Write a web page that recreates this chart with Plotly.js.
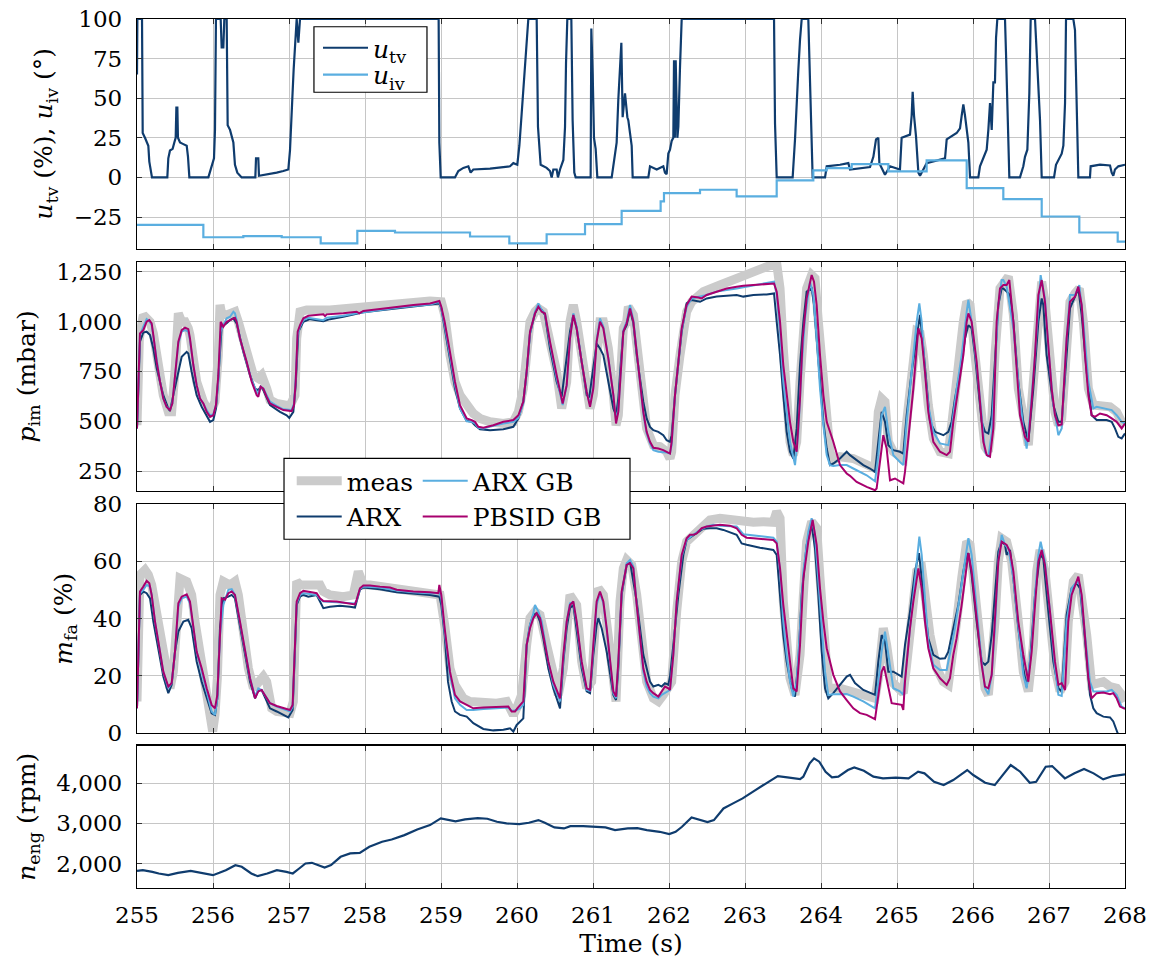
<!DOCTYPE html>
<html>
<head>
<meta charset="utf-8">
<script src="https://cdn.plot.ly/plotly-3.0.1.min.js"></script>
<style>
  html, body { margin: 0; padding: 0; background: #fff; }
  #chart { width: 1153px; height: 966px; }
</style>
</head>
<body>
<div id="chart"></div>
<script>
// ---------- throttle valve position u_tv (%) ----------
const uTvT = [255.000,255.005,255.066,255.075,255.105,255.127,255.149,255.162,255.180,255.197,
  255.399,255.412,255.434,255.469,255.491,255.509,255.518,255.531,255.539,255.566,
  255.610,255.654,255.671,255.689,255.939,255.961,255.982,256.013,256.026,256.039,
  256.101,256.114,256.136,256.149,256.180,256.193,256.224,256.246,256.268,256.289,
  256.320,256.377,256.557,256.566,256.596,256.605,256.750,256.838,256.925,256.991,
  257.013,257.031,257.044,257.061,257.083,257.101,257.123,257.145,258.969,258.978,
  258.996,259.184,259.228,259.294,259.360,259.390,259.425,259.645,259.908,259.952,
  260.004,260.031,260.061,260.092,260.118,260.149,260.259,260.276,260.311,260.390,
  260.434,260.456,260.478,260.522,260.539,260.566,260.610,260.632,260.645,260.662,
  260.715,260.732,260.754,260.772,260.969,260.978,260.996,261.013,261.035,261.057,
  261.246,261.268,261.311,261.333,261.355,261.373,261.390,261.421,261.452,261.465,
  261.487,261.509,261.522,261.728,261.750,261.838,261.925,261.947,261.969,261.991,
  262.013,262.035,262.057,262.066,262.077,262.088,262.110,262.123,262.145,262.167,
  263.382,263.395,263.417,263.627,263.658,263.680,263.702,263.724,263.746,263.833,
  263.846,263.864,263.882,263.890,264.053,264.075,264.250,264.360,264.382,264.645,
  264.689,264.724,264.754,264.768,264.842,264.908,265.039,265.061,265.171,265.193,
  265.206,265.224,265.250,265.281,265.303,265.390,265.632,265.654,265.785,265.829,
  265.851,265.873,265.895,265.939,265.961,266.070,266.092,266.180,266.202,266.224,
  266.246,266.268,266.289,266.303,266.320,266.421,266.434,266.452,266.465,266.478,
  266.618,266.662,266.684,266.715,266.741,266.759,266.816,266.838,266.860,266.882,
  266.904,267.066,267.092,267.167,267.189,267.211,267.224,267.320,267.342,267.364,
  267.386,267.539,267.548,267.671,267.803,267.825,267.846,267.868,267.912,268.000];
const uTvV = [65,100,100,28,25,22,20,10,3,0,
  0,12,17,18,22,25,44,44,25,22,
  21,20,13,0,0,4,8,12,30,100,
  100,82,82,100,100,33,30,25,22,8,
  3,0,0,12,12,1,2,3,4,5,
  17,32,50,68,85,100,85,100,100,22,
  0,0,4,6,7,3,5,5.5,7,9,
  8,20,40,60,80,100,100,32,8,6,
  4,0,5,5,0,5,11,32,72,100,
  100,36,3,0,0,94,65,25,18,0,
  0,7,22,49,68,85,38,53,38,36,
  28,20,0,0,7,5,7,3,2,15,
  17.5,23,25,74,25,74,25,32,70,100,
  100,34,0,0,24,50,68,87,100,100,
  79,39,17.5,0,0,7,8,9,5,6.5,
  13,24,25,9,1.7,7,5,25,27,39,
  54,39,26,3,1,9,12,24,28,31,
  39,46,39,22,0,0,7,17.5,30,47,
  30,60,60,88,100,100,79,47,17.5,0,
  0,7,13,17.5,53,100,100,79,55,36,
  0,0,8,15,20,47,100,100,93,39,
  0,0,7,8,7.5,3,1,5,7,8];

// ---------- intake valve angle u_iv (deg), piecewise constant ----------
const uIvT = [255.000,255.873,256.399,256.904,257.417,257.899,258.395,259.382,259.899,260.390,
  260.895,261.377,261.890,261.934,262.408,262.890,263.417,263.899,264.075,264.404,
  264.886,265.390,265.917,266.399,266.904,267.399,267.904,268.000];
const uIvV = [-30,-37.8,-37.1,-37.8,-41.6,-33.8,-34.8,-37.3,-41.6,-35.9,
  -29.5,-21.1,-15.2,-9.9,-7.8,-12.0,-1.9,4.4,5.9,8.4,
  3.8,10.8,-6.8,-13.7,-24.7,-34.8,-40.5,-40.5];

// ---------- intake manifold pressure p_im (mbar) ----------
const pimMeasT = [255.000,255.031,255.083,255.127,255.171,255.215,255.259,255.346,255.412,255.456,
  255.500,255.544,255.588,255.632,255.675,255.697,255.785,255.873,255.961,256.026,
  256.070,256.092,256.114,256.180,256.224,256.289,256.333,256.443,256.531,256.596,
  256.640,256.706,256.750,256.838,256.925,257.013,257.079,257.101,257.145,257.232,
  257.539,257.759,257.978,258.417,258.855,259.004,259.048,259.118,259.184,259.250,
  259.338,259.425,259.513,259.645,259.820,259.952,260.018,260.083,260.127,260.171,
  260.237,260.281,260.346,260.434,260.522,260.588,260.654,260.697,260.741,260.785,
  260.851,260.917,260.961,261.004,261.048,261.092,261.136,261.202,261.268,261.303,
  261.333,261.364,261.399,261.443,261.465,261.531,261.618,261.706,261.794,261.882,
  261.969,262.013,262.035,262.079,262.145,262.232,262.298,262.452,262.671,262.890,
  263.110,263.285,263.417,263.461,263.504,263.548,263.592,263.636,263.680,263.724,
  263.768,263.811,263.877,263.921,263.965,264.031,264.075,264.118,264.162,264.250,
  264.425,264.557,264.711,264.754,264.798,264.842,264.886,264.952,265.083,265.127,
  265.193,265.259,265.303,265.346,265.412,265.478,265.566,265.675,265.719,265.785,
  265.873,265.917,265.961,266.026,266.092,266.158,266.202,266.246,266.289,266.355,
  266.465,266.531,266.596,266.684,266.728,266.794,266.860,266.904,266.947,267.013,
  267.079,267.123,267.167,267.232,267.276,267.342,267.399,267.452,267.518,267.583,
  267.671,267.803,267.890,267.956,268.000];
const pimMeasV = [480,915,1033,1016,999,940,832,631,547,547,
  748,1041,999,999,966,932,698,598,539,598,
  832,1083,1041,1033,1041,1049,999,848,731,715,
  731,664,606,589,581,577,631,915,1049,1058,
  1058,1066,1071,1086,1103,1099,1033,832,698,631,
  581,539,514,497,489,497,547,664,832,999,
  1049,1066,1049,915,748,564,698,999,1083,999,
  832,631,564,631,865,999,999,865,631,480,
  530,765,966,999,1074,1033,698,464,380,372,
  347,313,347,631,832,1049,1099,1150,1183,1217,
  1258,1275,1292,1166,865,547,397,330,397,698,
  999,1166,1233,1217,999,664,464,347,305,322,
  313,288,263,547,614,598,397,347,313,497,
  748,949,940,832,581,414,347,338,480,731,
  999,1099,1083,832,547,372,347,497,832,1166,
  1225,1033,664,430,380,698,1083,1200,1099,748,
  547,480,514,865,1099,1141,1166,999,664,581,
  581,572,547,497,489];

const pimArxT = [255.000,255.039,255.083,255.127,255.171,255.215,255.259,255.346,255.412,255.434,
  255.478,255.544,255.588,255.654,255.675,255.719,255.785,255.851,255.895,255.961,
  256.004,256.039,256.070,256.101,256.114,256.180,256.224,256.268,256.311,256.399,
  256.487,256.553,256.596,256.627,256.662,256.750,256.882,256.969,257.004,257.057,
  257.088,257.123,257.189,257.276,257.452,257.539,257.715,257.978,258.417,258.855,
  258.978,259.004,259.048,259.118,259.184,259.250,259.338,259.404,259.447,259.513,
  259.645,259.820,259.952,260.018,260.083,260.127,260.171,260.237,260.281,260.325,
  260.368,260.434,260.522,260.588,260.654,260.697,260.741,260.785,260.851,260.917,
  260.952,261.004,261.048,261.092,261.136,261.202,261.268,261.303,261.333,261.364,
  261.399,261.443,261.487,261.531,261.575,261.618,261.662,261.706,261.750,261.794,
  261.860,261.925,261.969,262.013,262.035,262.079,262.123,262.167,262.232,262.298,
  262.408,262.496,262.627,262.803,262.890,262.978,263.110,263.285,263.382,263.417,
  263.461,263.504,263.548,263.592,263.636,263.680,263.724,263.768,263.811,263.877,
  263.908,263.943,263.987,264.031,264.075,264.118,264.162,264.250,264.338,264.382,
  264.469,264.557,264.645,264.711,264.754,264.798,264.842,264.886,264.952,265.039,
  265.083,265.127,265.193,265.259,265.303,265.346,265.390,265.434,265.500,265.610,
  265.675,265.719,265.763,265.829,265.895,265.939,265.982,266.026,266.070,266.114,
  266.158,266.202,266.246,266.289,266.333,266.377,266.399,266.443,266.487,266.531,
  266.596,266.662,266.728,266.794,266.860,266.904,266.925,266.969,267.057,267.123,
  267.167,267.232,267.276,267.342,267.386,267.430,267.496,267.561,267.627,267.759,
  267.825,267.868,267.912,267.956,268.000];
const pimArxV = [464,899,945,949,932,865,765,631,564,551,
  631,748,823,848,840,748,631,572,539,497,
  506,564,715,932,974,991,1007,1016,991,848,
  731,664,656,673,656,581,547,530,517,547,
  681,949,999,1012,1002,1012,1024,1046,1066,1083,
  1091,1066,966,798,664,564,502,497,480,460,
  455,460,472,514,598,748,940,1041,1074,1058,
  1033,865,698,623,832,949,1033,966,798,631,
  623,782,890,865,832,698,564,530,614,782,
  949,982,1058,991,832,715,598,514,472,455,
  447,430,405,397,430,631,782,949,1091,1108,
  1099,1116,1125,1130,1133,1125,1133,1136,1141,999,
  832,631,447,347,313,464,782,999,1150,1166,
  1083,915,698,497,363,280,288,313,347,330,
  305,280,263,246,397,547,497,380,355,347,
  338,530,748,915,1033,865,664,497,447,430,
  447,497,614,748,915,982,966,832,664,497,
  447,439,530,832,1083,1166,1166,1150,1133,999,
  698,497,397,664,999,1116,1083,832,581,497,
  497,832,1066,1125,1166,1033,748,530,506,506,
  497,464,422,414,439];

const pimArxGbT = [255.000,255.039,255.083,255.127,255.162,255.193,255.215,255.259,255.303,255.346,
  255.390,255.434,255.465,255.500,255.544,255.588,255.632,255.675,255.697,255.741,
  255.785,255.829,255.873,255.917,255.961,256.004,256.039,256.070,256.101,256.136,
  256.180,256.224,256.268,256.289,256.311,256.355,256.443,256.509,256.575,256.596,
  256.627,256.662,256.706,256.750,256.838,256.925,257.035,257.066,257.088,257.114,
  257.145,257.189,257.254,257.364,257.452,257.496,257.715,257.890,257.978,258.197,
  258.417,258.636,258.855,258.978,259.004,259.048,259.118,259.184,259.250,259.338,
  259.404,259.447,259.491,259.557,259.689,259.820,259.952,260.018,260.083,260.127,
  260.171,260.237,260.281,260.325,260.368,260.434,260.522,260.601,260.654,260.697,
  260.741,260.785,260.851,260.917,260.961,261.004,261.048,261.092,261.136,261.202,
  261.268,261.303,261.333,261.364,261.399,261.443,261.487,261.531,261.575,261.618,
  261.662,261.706,261.750,261.794,261.860,261.969,262.013,262.035,262.079,262.123,
  262.167,262.232,262.298,262.496,262.627,262.890,263.022,263.110,263.285,263.382,
  263.417,263.461,263.504,263.548,263.592,263.658,263.702,263.746,263.789,263.855,
  263.899,263.943,263.987,264.031,264.075,264.118,264.162,264.250,264.338,264.425,
  264.601,264.711,264.754,264.798,264.842,264.886,264.952,265.039,265.083,265.127,
  265.193,265.259,265.294,265.325,265.368,265.412,265.478,265.566,265.675,265.719,
  265.785,265.851,265.917,265.939,265.982,266.048,266.114,266.158,266.202,266.246,
  266.289,266.333,266.377,266.399,266.443,266.531,266.596,266.662,266.706,266.750,
  266.816,266.860,266.890,266.947,266.991,267.057,267.123,267.167,267.232,267.276,
  267.342,267.399,267.452,267.518,267.583,267.627,267.715,267.825,267.890,267.956,
  268.000];
const pimArxGbV = [464,930,974,1012,1002,982,924,798,698,614,
  572,560,589,723,890,949,957,949,907,782,
  681,614,589,556,530,534,581,698,949,982,
  1016,1024,1049,1041,1007,915,798,706,648,639,
  673,664,631,598,577,560,556,589,715,932,
  974,1007,1019,1012,1007,1019,1029,1041,1046,1058,
  1069,1078,1086,1099,1066,982,832,681,564,500,
  497,489,467,464,477,489,497,517,589,740,
  940,1049,1091,1058,1041,890,715,581,681,915,
  1041,974,798,648,581,673,907,1016,974,815,
  631,506,556,765,957,999,1083,1007,848,681,
  539,439,389,355,347,343,338,380,631,798,
  957,1074,1116,1133,1150,1166,1175,1180,1191,1200,
  1133,949,698,530,397,280,447,782,1016,1200,
  1133,915,664,480,330,280,276,280,280,263,
  229,199,330,530,572,447,330,296,280,497,
  748,999,1091,999,748,581,447,389,380,464,
  664,832,1049,1108,999,782,530,347,322,439,
  748,1083,1208,1208,1175,966,698,464,363,530,
  832,1099,1233,1116,865,581,430,464,915,1133,
  1133,1183,999,698,564,572,564,556,530,497,
  489];

const pimPbsidT = [255.000,255.039,255.083,255.127,255.162,255.193,255.215,255.259,255.303,255.346,
  255.390,255.434,255.465,255.500,255.544,255.588,255.632,255.675,255.697,255.741,
  255.785,255.829,255.873,255.917,255.961,256.004,256.039,256.070,256.101,256.136,
  256.180,256.224,256.289,256.311,256.355,256.443,256.509,256.575,256.596,256.627,
  256.662,256.706,256.750,256.838,256.925,257.035,257.066,257.088,257.114,257.145,
  257.189,257.254,257.364,257.452,257.474,257.496,257.715,257.890,257.925,257.978,
  258.197,258.417,258.636,258.855,258.978,259.004,259.048,259.118,259.184,259.250,
  259.338,259.404,259.447,259.491,259.557,259.689,259.820,259.952,260.018,260.083,
  260.127,260.171,260.237,260.281,260.325,260.368,260.434,260.522,260.601,260.654,
  260.697,260.741,260.785,260.851,260.917,260.961,261.004,261.048,261.092,261.136,
  261.202,261.268,261.303,261.333,261.364,261.399,261.443,261.487,261.531,261.575,
  261.618,261.662,261.706,261.750,261.794,261.860,261.925,261.969,262.013,262.035,
  262.079,262.123,262.167,262.232,262.298,262.386,262.430,262.496,262.627,262.759,
  262.890,262.978,263.110,263.285,263.382,263.417,263.461,263.504,263.548,263.592,
  263.636,263.680,263.724,263.759,263.811,263.877,263.908,263.943,263.987,264.031,
  264.075,264.162,264.250,264.338,264.382,264.469,264.601,264.711,264.732,264.776,
  264.820,264.864,264.908,264.974,265.039,265.083,265.105,265.171,265.215,265.281,
  265.325,265.368,265.412,265.478,265.566,265.654,265.697,265.741,265.807,265.873,
  265.917,265.939,265.982,266.048,266.092,266.136,266.180,266.224,266.268,266.311,
  266.355,266.399,266.443,266.478,266.531,266.575,266.618,266.684,266.728,266.772,
  266.816,266.860,266.904,266.947,266.991,267.035,267.079,267.123,267.167,267.232,
  267.276,267.342,267.386,267.430,267.474,267.518,267.561,267.605,267.671,267.759,
  267.825,267.890,267.956,268.000];
const pimPbsidV = [464,940,957,999,1007,991,932,798,698,614,
  572,556,589,731,899,957,969,962,915,782,
  681,614,589,547,522,530,581,731,999,974,
  999,1007,1019,999,915,798,698,631,623,673,
  664,623,589,572,556,551,581,698,949,982,
  1016,1029,1033,1036,1027,1036,1041,1049,1041,1053,
  1063,1074,1083,1091,1103,1074,999,848,698,581,
  514,506,497,472,467,480,497,506,530,598,
  748,949,1041,1074,1049,1041,899,731,589,681,
  915,1033,966,798,648,572,664,899,999,966,
  815,631,489,547,765,949,991,1066,999,848,
  681,547,447,397,367,363,355,347,338,397,
  631,798,966,1083,1125,1120,1116,1133,1150,1166,
  1175,1180,1183,1188,1191,1150,999,782,631,497,
  397,347,614,915,1116,1233,1200,1083,832,631,
  497,397,280,238,226,196,171,154,163,296,
  430,363,204,213,196,188,246,497,664,966,
  915,748,547,397,347,330,347,497,664,832,
  999,1041,999,798,598,397,330,322,464,999,
  1166,1183,1183,1208,999,748,530,422,397,598,
  832,1133,1208,1099,899,664,530,480,484,915,
  1099,1125,1175,1083,832,631,530,522,539,530,
  514,497,464,489];

// ---------- fuel mass / injection m_fa (%) ----------
const mfaMeasT = [255.000,255.039,255.105,255.149,255.193,255.259,255.325,255.390,255.434,255.478,
  255.522,255.566,255.654,255.719,255.763,255.829,255.895,255.961,255.996,256.026,
  256.057,256.092,256.136,256.224,256.289,256.333,256.399,256.465,256.531,256.596,
  256.662,256.706,256.772,256.838,256.925,257.013,257.057,257.101,257.145,257.232,
  257.320,257.408,257.452,257.539,257.715,257.846,257.912,257.934,257.978,258.066,
  258.241,258.417,258.855,258.987,259.048,259.118,259.184,259.294,259.382,259.557,
  259.732,259.864,259.908,259.952,259.996,260.061,260.127,260.171,260.237,260.303,
  260.390,260.456,260.544,260.610,260.654,260.697,260.785,260.851,260.917,260.982,
  261.026,261.070,261.136,261.202,261.268,261.303,261.355,261.399,261.443,261.509,
  261.575,261.640,261.706,261.794,261.860,261.925,261.991,262.035,262.101,262.167,
  262.232,262.364,262.452,262.539,262.671,262.846,262.978,263.110,263.241,263.373,
  263.417,263.461,263.504,263.548,263.592,263.658,263.724,263.768,263.811,263.877,
  263.943,263.987,264.031,264.096,264.250,264.382,264.513,264.711,264.754,264.820,
  264.864,264.930,265.018,265.083,265.127,265.193,265.259,265.325,265.368,265.434,
  265.522,265.610,265.675,265.719,265.785,265.851,265.917,265.961,266.026,266.092,
  266.158,266.202,266.246,266.289,266.333,266.377,266.443,266.509,266.596,266.662,
  266.728,266.794,266.838,266.882,266.947,267.013,267.079,267.145,267.211,267.254,
  267.320,267.386,267.452,267.496,267.561,267.627,267.715,267.803,267.890,267.956,
  268.000];
const mfaMeasV = [11.1,55.3,57.0,55.3,51.8,42.5,30.8,20.4,15.7,21.5,
  42.5,54.1,53.0,48.3,39.0,27.4,20.4,8.7,0.6,6.4,
  19.2,48.3,53.0,51.8,53.0,48.3,34.3,22.7,15.7,18.0,
  19.8,18.0,8.7,7.6,7.6,7.0,11.1,53.0,51.8,51.8,
  51.2,51.8,49.5,48.3,47.7,48.3,56.5,54.1,51.8,51.8,
  51.2,50.6,49.5,48.3,37.8,22.7,16.9,12.2,11.1,10.5,
  10.5,11.1,8.7,6.4,8.7,13.4,30.8,40.2,42.5,41.3,
  30.8,22.7,13.4,22.7,41.3,48.3,44.8,25.0,15.7,18.0,
  36.7,50.6,48.3,33.2,13.4,11.1,46.0,57.6,60.5,58.8,
  48.3,30.8,18.0,12.2,11.1,13.4,15.7,18.0,42.5,59.9,
  66.9,70.4,72.8,74.5,75.1,74.5,73.9,73.7,73.9,73.7,
  77.4,75.1,46.0,30.8,19.2,13.4,27.4,48.3,66.9,73.9,
  71.6,54.1,36.7,15.7,15.7,14.6,13.4,12.2,19.2,36.7,
  30.8,18.0,15.7,14.0,23.9,42.5,56.5,57.6,48.3,34.3,
  22.7,18.0,16.9,23.9,39.0,54.1,66.9,65.8,48.3,28.5,
  15.7,13.4,23.9,39.0,59.9,68.1,66.9,59.9,39.0,21.5,
  14.6,30.8,56.5,64.0,56.5,39.0,22.7,14.6,18.0,39.0,
  53.0,55.3,44.8,34.3,16.9,17.5,18.0,16.3,15.7,13.4,
  11.1];

const mfaArxT = [255.000,255.039,255.083,255.127,255.171,255.215,255.303,255.346,255.412,255.456,
  255.500,255.544,255.610,255.675,255.719,255.785,255.851,255.917,255.982,256.026,
  256.057,256.092,256.136,256.202,256.246,256.289,256.421,256.487,256.553,256.596,
  256.640,256.706,256.750,256.838,256.925,256.991,257.048,257.079,257.101,257.145,
  257.189,257.254,257.364,257.408,257.452,257.539,257.671,257.803,257.868,257.890,
  257.934,257.978,258.197,258.417,258.636,258.855,258.978,259.004,259.048,259.092,
  259.140,259.184,259.250,259.338,259.425,259.557,259.689,259.820,259.908,259.952,
  259.996,260.039,260.083,260.127,260.171,260.215,260.259,260.303,260.346,260.412,
  260.478,260.566,260.610,260.654,260.697,260.741,260.785,260.851,260.917,260.961,
  261.004,261.048,261.070,261.114,261.180,261.224,261.268,261.303,261.333,261.377,
  261.443,261.487,261.575,261.662,261.750,261.794,261.860,261.904,261.947,261.991,
  262.013,262.057,262.123,262.189,262.232,262.298,262.364,262.452,262.539,262.627,
  262.715,262.846,262.890,262.956,263.022,263.197,263.373,263.417,263.461,263.504,
  263.548,263.614,263.658,263.702,263.746,263.811,263.877,263.921,263.965,264.009,
  264.053,264.096,264.162,264.250,264.338,264.382,264.447,264.557,264.645,264.711,
  264.754,264.798,264.842,264.886,264.952,265.018,265.061,265.105,265.171,265.237,
  265.289,265.325,265.368,265.412,265.478,265.566,265.632,265.675,265.741,265.807,
  265.873,265.917,265.939,265.982,266.048,266.114,266.158,266.202,266.246,266.289,
  266.333,266.377,266.421,266.443,266.487,266.531,266.596,266.662,266.706,266.750,
  266.816,266.882,266.925,266.991,267.057,267.123,267.167,267.232,267.298,267.364,
  267.408,267.452,267.496,267.539,267.583,267.627,267.715,267.803,267.846,267.890,
  267.904,268.000];
const mfaArxV = [8.7,48.3,49.5,48.9,47.1,39.0,26.2,19.8,14.0,16.9,
  28.5,35.5,39.0,39.6,36.7,25.0,18.0,12.2,7.0,6.4,
  12.2,36.7,47.1,47.7,48.3,47.1,28.5,18.0,12.2,15.1,
  15.1,11.1,8.7,7.6,6.4,5.5,8.1,28.5,44.8,47.7,
  48.3,47.7,48.3,46.0,43.7,44.2,44.5,44.2,43.9,46.0,
  50.1,50.9,50.3,49.2,48.7,48.3,47.7,44.8,34.3,18.0,
  11.1,7.6,6.4,5.8,3.5,1.5,1.0,1.2,1.7,0.6,
  2.9,4.1,5.2,30.8,37.8,41.3,41.9,39.0,33.2,22.7,
  15.7,8.7,25.0,36.7,43.7,44.8,36.7,22.7,14.6,14.0,
  27.4,37.8,40.2,36.7,28.5,21.5,13.4,11.6,22.7,48.3,
  58.8,59.9,46.0,27.4,18.0,16.3,16.9,16.3,17.5,16.9,
  19.8,30.8,48.3,62.3,67.5,68.7,69.8,71.4,71.6,71.6,
  71.0,69.8,69.3,66.3,65.8,64.8,64.0,62.3,48.3,34.3,
  25.0,15.7,12.8,25.0,48.3,65.8,72.8,64.6,48.3,28.5,
  15.7,12.2,14.0,16.9,19.8,20.4,17.5,15.1,14.0,13.4,
  25.0,34.3,32.0,21.5,21.5,20.4,19.8,30.8,42.5,56.5,
  62.9,54.1,42.5,33.2,27.4,26.0,26.2,28.5,36.7,44.8,
  56.5,62.3,62.9,55.3,39.0,25.0,23.9,25.0,34.3,48.3,
  63.4,66.9,65.8,62.3,64.0,54.1,36.7,22.7,16.3,25.0,
  48.3,62.3,61.1,42.5,25.0,15.7,14.6,41.3,50.6,52.4,
  50.6,39.0,25.0,13.4,8.7,7.0,5.8,5.5,4.1,0.6,
  0.0,-4.0];

const mfaArxGbT = [255.000,255.039,255.083,255.127,255.171,255.193,255.237,255.303,255.346,255.412,
  255.456,255.500,255.544,255.588,255.654,255.697,255.741,255.785,255.851,255.917,
  255.982,256.026,256.057,256.092,256.136,256.202,256.246,256.289,256.355,256.421,
  256.487,256.553,256.596,256.640,256.706,256.750,256.838,256.925,257.013,257.048,
  257.079,257.101,257.145,257.189,257.298,257.364,257.408,257.452,257.627,257.803,
  257.868,257.890,257.934,257.978,258.197,258.417,258.636,258.855,258.978,259.004,
  259.048,259.118,259.184,259.250,259.338,259.425,259.557,259.732,259.886,259.930,
  259.996,260.039,260.083,260.127,260.171,260.215,260.237,260.281,260.325,260.368,
  260.412,260.478,260.566,260.610,260.654,260.697,260.741,260.785,260.851,260.917,
  260.961,261.004,261.048,261.092,261.136,261.180,261.224,261.268,261.303,261.333,
  261.377,261.443,261.487,261.531,261.575,261.618,261.662,261.706,261.750,261.794,
  261.860,261.904,261.969,262.013,262.057,262.101,262.167,262.232,262.320,262.408,
  262.496,262.583,262.671,262.890,262.978,263.110,263.241,263.373,263.417,263.461,
  263.504,263.548,263.592,263.636,263.680,263.724,263.768,263.833,263.877,263.921,
  263.965,264.009,264.053,264.096,264.162,264.338,264.425,264.557,264.711,264.754,
  264.798,264.842,264.886,264.952,265.039,265.083,265.127,265.193,265.259,265.294,
  265.325,265.368,265.412,265.478,265.566,265.654,265.697,265.763,265.829,265.895,
  265.939,265.982,266.048,266.114,266.158,266.202,266.246,266.289,266.333,266.377,
  266.421,266.465,266.531,266.596,266.662,266.706,266.772,266.816,266.860,266.890,
  266.947,267.013,267.079,267.123,267.167,267.232,267.298,267.364,267.408,267.474,
  267.539,267.583,267.671,267.759,267.825,267.890,267.956,268.000];
const mfaArxGbV = [8.7,48.9,50.1,51.8,51.2,48.3,39.0,27.4,21.5,15.7,
  17.5,28.5,44.2,47.1,47.7,45.4,36.7,28.5,21.5,14.6,
  7.6,6.4,12.2,34.3,44.8,50.1,50.3,48.3,39.0,28.5,
  19.2,12.8,15.7,15.1,12.2,10.5,9.3,8.5,7.6,9.3,
  29.7,45.4,48.3,48.9,48.5,48.3,46.9,46.0,45.7,45.4,
  45.3,46.6,50.4,51.2,50.9,49.8,49.2,48.9,48.9,47.1,
  35.5,20.4,12.2,9.9,8.1,8.1,8.5,8.7,9.0,7.8,
  8.1,8.7,9.9,30.8,37.8,41.9,44.8,42.5,39.0,32.0,
  25.0,16.9,11.1,26.2,39.0,45.4,45.7,38.4,24.4,15.1,
  14.8,29.7,44.8,48.9,45.4,36.1,24.4,14.0,12.2,24.4,
  48.9,59.4,60.5,58.2,44.8,32.0,21.5,16.3,14.0,12.8,
  12.2,13.4,14.6,15.1,27.4,46.0,61.7,67.5,69.3,71.0,
  72.2,72.8,72.5,72.2,69.5,69.0,68.7,68.3,66.9,56.5,
  39.0,27.4,18.0,12.8,18.0,36.7,56.5,70.4,75.1,69.3,
  54.1,36.7,21.5,13.4,13.6,13.7,12.8,11.1,8.7,18.0,
  28.5,35.5,27.4,15.7,14.6,13.4,25.0,42.5,59.9,68.7,
  62.3,46.0,32.0,23.9,22.1,22.1,27.4,36.7,48.3,59.9,
  68.1,62.3,42.5,25.0,15.7,13.6,20.4,36.7,59.9,69.3,
  65.8,64.6,54.1,36.7,20.4,15.7,30.8,48.3,62.3,66.9,
  59.9,42.5,22.7,13.4,13.0,39.0,50.6,53.0,51.8,34.3,
  18.0,14.6,14.6,14.6,15.1,13.4,9.3,8.7];

const mfaPbsidT = [255.000,255.039,255.083,255.127,255.162,255.193,255.237,255.303,255.346,255.412,
  255.456,255.500,255.544,255.588,255.654,255.697,255.741,255.785,255.851,255.917,
  255.982,256.026,256.057,256.092,256.114,256.158,256.202,256.246,256.289,256.355,
  256.421,256.487,256.553,256.596,256.640,256.706,256.750,256.838,256.925,257.013,
  257.048,257.079,257.101,257.145,257.189,257.298,257.364,257.408,257.452,257.627,
  257.803,257.868,257.890,257.934,257.978,258.066,258.197,258.329,258.417,258.636,
  258.855,258.965,258.978,259.004,259.048,259.118,259.184,259.250,259.338,259.425,
  259.557,259.689,259.820,259.886,259.930,259.974,260.004,260.039,260.083,260.127,
  260.171,260.215,260.259,260.303,260.346,260.412,260.478,260.566,260.610,260.654,
  260.697,260.741,260.785,260.851,260.917,260.961,261.004,261.048,261.092,261.136,
  261.180,261.224,261.268,261.303,261.333,261.377,261.443,261.487,261.531,261.575,
  261.618,261.662,261.706,261.750,261.794,261.860,261.904,261.947,261.991,262.013,
  262.057,262.101,262.167,262.232,262.276,262.320,262.364,262.430,262.496,262.583,
  262.671,262.803,262.890,262.956,263.022,263.110,263.241,263.373,263.417,263.461,
  263.504,263.548,263.592,263.636,263.680,263.724,263.768,263.833,263.890,263.943,
  263.987,264.031,264.075,264.162,264.250,264.338,264.425,264.513,264.601,264.711,
  264.754,264.798,264.829,264.864,264.930,264.996,265.061,265.083,265.105,265.171,
  265.215,265.281,265.325,265.368,265.412,265.478,265.566,265.654,265.697,265.741,
  265.785,265.851,265.917,265.939,265.982,266.048,266.114,266.158,266.202,266.246,
  266.289,266.333,266.377,266.443,266.487,266.531,266.596,266.662,266.728,266.772,
  266.816,266.860,266.904,266.947,267.013,267.079,267.123,267.167,267.211,267.254,
  267.298,267.342,267.386,267.430,267.474,267.518,267.561,267.627,267.715,267.803,
  267.846,267.890,267.934,268.000];
const mfaPbsidV = [8.7,49.5,51.2,53.2,52.4,48.3,39.0,27.4,21.5,16.3,
  17.5,28.5,45.4,47.7,48.5,46.0,36.7,28.5,22.7,15.7,
  9.9,8.7,13.4,36.7,47.1,46.6,48.9,49.5,48.3,39.0,
  28.5,19.2,12.2,14.6,15.1,12.2,10.5,9.5,8.7,8.1,
  9.9,30.8,46.0,48.9,49.7,49.2,48.9,47.1,46.2,46.0,
  45.4,45.0,46.6,50.6,51.6,51.6,51.2,50.9,50.1,49.5,
  49.2,48.9,51.8,48.3,36.7,21.5,13.4,11.1,9.9,8.7,
  9.0,9.1,9.2,9.3,7.6,7.6,8.7,9.9,11.1,30.8,
  36.7,40.2,41.9,40.2,34.3,25.0,18.0,12.2,27.4,39.0,
  44.8,46.0,39.0,25.0,15.7,15.1,30.8,46.0,49.5,46.0,
  36.7,25.0,14.6,12.8,25.0,49.5,58.8,59.4,57.6,44.8,
  33.2,22.7,18.0,15.1,14.0,12.8,14.6,16.3,15.7,15.1,
  27.4,46.0,62.3,68.1,69.3,69.3,69.8,71.6,72.2,72.5,
  72.8,72.5,71.6,69.3,68.3,68.1,67.7,67.5,66.3,57.6,
  44.8,34.3,25.0,15.7,14.6,30.8,54.1,66.9,74.5,65.8,
  50.6,39.0,29.7,20.4,14.6,11.6,8.7,7.0,6.4,4.9,
  13.4,21.5,23.3,19.2,10.5,10.2,9.9,8.1,18.0,36.7,
  46.0,57.6,50.6,39.0,29.7,22.7,19.2,16.9,19.2,27.4,
  33.2,44.8,59.9,62.9,56.5,39.0,23.9,16.3,15.7,20.4,
  39.0,59.9,66.9,65.8,63.4,56.5,39.0,27.4,18.0,28.5,
  44.8,59.9,64.0,58.8,42.5,25.0,16.9,17.5,15.1,39.0,
  48.3,51.8,54.7,48.3,34.3,19.2,12.2,14.0,14.2,13.6,
  14.0,12.2,9.3,8.5];

// ---------- engine speed n_eng (rpm) ----------
const nEngT = [255.000,255.076,255.202,255.286,255.412,255.538,255.706,255.832,255.916,256.000,
  256.084,256.168,256.294,256.378,256.504,256.588,256.714,256.840,256.966,257.050,
  257.134,257.217,257.301,257.385,257.469,257.553,257.679,257.805,257.931,258.057,
  258.225,258.351,258.519,258.687,258.855,258.997,259.065,259.191,259.317,259.484,
  259.610,259.736,259.862,260.030,260.156,260.282,260.366,260.492,260.618,260.702,
  260.870,261.038,261.164,261.290,261.458,261.584,261.709,261.877,262.003,262.087,
  262.171,262.297,262.381,262.507,262.591,262.717,262.843,262.969,263.137,263.305,
  263.431,263.557,263.725,263.767,263.851,263.909,263.977,264.060,264.144,264.228,
  264.354,264.438,264.564,264.690,264.816,264.984,265.152,265.278,265.362,265.488,
  265.614,265.740,265.824,265.924,266.003,266.160,266.286,266.370,266.496,266.621,
  266.747,266.831,266.957,267.041,267.125,267.209,267.335,267.461,267.587,267.713,
  267.839,267.965,268.000];
const nEngV = [1817,1834,1792,1751,1709,1767,1817,1767,1734,1709,
  1767,1834,1958,1917,1751,1684,1751,1834,1792,1751,
  1875,2000,2016,1958,1900,1958,2166,2249,2265,2415,
  2539,2597,2705,2846,2954,3120,3095,3046,3095,3128,
  3112,3037,2996,2979,3012,3079,3012,2896,2871,2929,
  2929,2913,2896,2830,2871,2880,2830,2788,2730,2788,
  2913,3145,3095,3029,3079,3369,3494,3618,3826,4033,
  4174,4141,4100,4158,4490,4614,4531,4282,4141,4158,
  4324,4390,4307,4158,4116,4133,4116,4282,4241,4033,
  3950,4075,4199,4324,4199,4008,3950,4158,4448,4282,
  4008,4033,4407,4423,4282,4116,4241,4349,4241,4091,
  4174,4216,4216];

// ---------- styling ----------
const FONT = 'DejaVu Serif, Liberation Serif, Noto Serif, serif';
const NAVY = '#0f3c6e';
const SKY = '#5aaee0';
const PLUM = '#a8006e';
const GREY = '#cbcbcb';
const TICK_FS = 23;
const TEXT_FS = 25;

function series(x, y, color, width, axis, name, legend, extra) {
  const t = {
    type: 'scatter', mode: 'lines', x: x, y: y, name: name,
    xaxis: 'x' + (axis === 1 ? '' : axis), yaxis: 'y' + (axis === 1 ? '' : axis),
    line: {color: color, width: width}, hoverinfo: 'skip'
  };
  if (legend) { t.legend = legend; t.showlegend = true; } else { t.showlegend = false; }
  return Object.assign(t, extra || {});
}

const data = [
  series(uTvT, uTvV, NAVY, 2.2, 1, '<i>u</i><sub>tv</sub>', 'legend'),
  series(uIvT, uIvV, SKY, 2.2, 1, '<i>u</i><sub>iv</sub>', 'legend2', {line: {color: SKY, width: 2.2, shape: 'hv'}}),

  series(pimMeasT, pimMeasV, GREY, 9, 2, 'meas', 'legend3', {legendwidth: 66}),
  series(pimArxT, pimArxV, NAVY, 2, 2, 'ARX', 'legend4', {legendwidth: 66}),
  series(pimArxGbT, pimArxGbV, SKY, 2, 2, 'ARX GB', 'legend3', {legendwidth: 170}),
  series(pimPbsidT, pimPbsidV, PLUM, 2, 2, 'PBSID GB', 'legend4', {legendwidth: 170}),

  series(mfaMeasT, mfaMeasV, GREY, 9, 3, 'meas'),
  series(mfaArxT, mfaArxV, NAVY, 2, 3, 'ARX'),
  series(mfaArxGbT, mfaArxGbV, SKY, 2, 3, 'ARX GB'),
  series(mfaPbsidT, mfaPbsidV, PLUM, 2, 3, 'PBSID GB'),

  series(nEngT, nEngV, NAVY, 2.2, 4, 'n_eng')
];

const tickFont = {family: FONT, size: TICK_FS, color: '#000'};
const titleFont = {family: FONT, size: TEXT_FS, color: '#000'};

const xBase = {
  range: [255, 268], tick0: 255, dtick: 1,
  showgrid: true, gridcolor: '#c6c6c6', gridwidth: 1,
  showline: true, linecolor: '#000', linewidth: 1.2, mirror: 'allticks',
  ticks: 'inside', ticklen: 5, tickcolor: '#333', tickwidth: 1,
  zeroline: false, tickfont: tickFont, fixedrange: true
};
const yBase = {
  showgrid: true, gridcolor: '#c6c6c6', gridwidth: 1,
  showline: true, linecolor: '#000', linewidth: 1.2, mirror: 'allticks',
  ticks: 'inside', ticklen: 5, tickcolor: '#333', tickwidth: 1,
  zeroline: false, tickfont: tickFont, ticklabelstandoff: 9, fixedrange: true
};

const legBase = {
  orientation: 'h', bgcolor: 'rgba(0,0,0,0)', borderwidth: 0,
  font: {family: FONT, size: TEXT_FS, color: '#000'}, itemwidth: 45,
  xanchor: 'left', yanchor: 'middle', itemclick: false, itemdoubleclick: false
};

const layout = {
  width: 1153, height: 966,
  margin: {l: 137, r: 28, t: 19, b: 78},
  paper_bgcolor: '#fff', plot_bgcolor: '#fff',
  font: {family: FONT, size: TEXT_FS, color: '#000'},
  xaxis: Object.assign({}, xBase, {anchor: 'y', showticklabels: false}),
  xaxis2: Object.assign({}, xBase, {anchor: 'y2', showticklabels: false}),
  xaxis3: Object.assign({}, xBase, {anchor: 'y3', showticklabels: false}),
  xaxis4: Object.assign({}, xBase, {anchor: 'y4', ticklabelstandoff: 6,
    title: {text: 'Time (s)', font: titleFont, standoff: 7}}),
  yaxis: Object.assign({}, yBase, {anchor: 'x', domain: [0.7357, 1], range: [-45, 100],
    tickvals: [-25, 0, 25, 50, 75, 100],
    title: {text: '<i>u</i><sub>tv</sub> (%), <i>u</i><sub>iv</sub> (°)', font: titleFont, standoff: 13}}),
  yaxis2: Object.assign({}, yBase, {anchor: 'x2', domain: [0.4568, 0.7207], range: [150, 1300],
    tickvals: [250, 500, 750, 1000, 1250], tickformat: ',',
    title: {text: '<i>p</i><sub>im</sub> (mbar)', font: titleFont, standoff: 13}}),
  yaxis3: Object.assign({}, yBase, {anchor: 'x3', domain: [0.1781, 0.4417], range: [0, 80],
    tickvals: [0, 20, 40, 60, 80],
    title: {text: '<i>m</i><sub>fa</sub> (%)', font: titleFont, standoff: 13}}),
  yaxis4: Object.assign({}, yBase, {anchor: 'x4', domain: [0, 0.1638], range: [1390, 4930],
    tickvals: [2000, 3000, 4000], tickformat: ',',
    title: {text: '<i>n</i><sub>eng</sub> (rpm)', font: titleFont, standoff: 13}}),
  legend: Object.assign({}, legBase, {x: 0.1832, y: 0.9666}),
  legend2: Object.assign({}, legBase, {x: 0.1832, y: 0.9356}),
  legend3: Object.assign({}, legBase, {x: 0.1566, y: 0.4683}),
  legend4: Object.assign({}, legBase, {x: 0.1566, y: 0.4273}),
  shapes: [
    {type: 'rect', xref: 'paper', yref: 'paper', x0: 0.1791, x1: 0.2935, y0: 0.9157, y1: 0.9911,
     fillcolor: '#fff', line: {color: '#000', width: 1.2}, layer: 'above'},
    {type: 'rect', xref: 'paper', yref: 'paper', x0: 0.1488, x1: 0.4990, y0: 0.4013, y1: 0.4945,
     fillcolor: '#fff', line: {color: '#000', width: 1.2}, layer: 'above'}
  ],
  showlegend: true
};

Plotly.newPlot('chart', data, layout, {displayModeBar: false, staticPlot: true});
</script>
</body>
</html>
